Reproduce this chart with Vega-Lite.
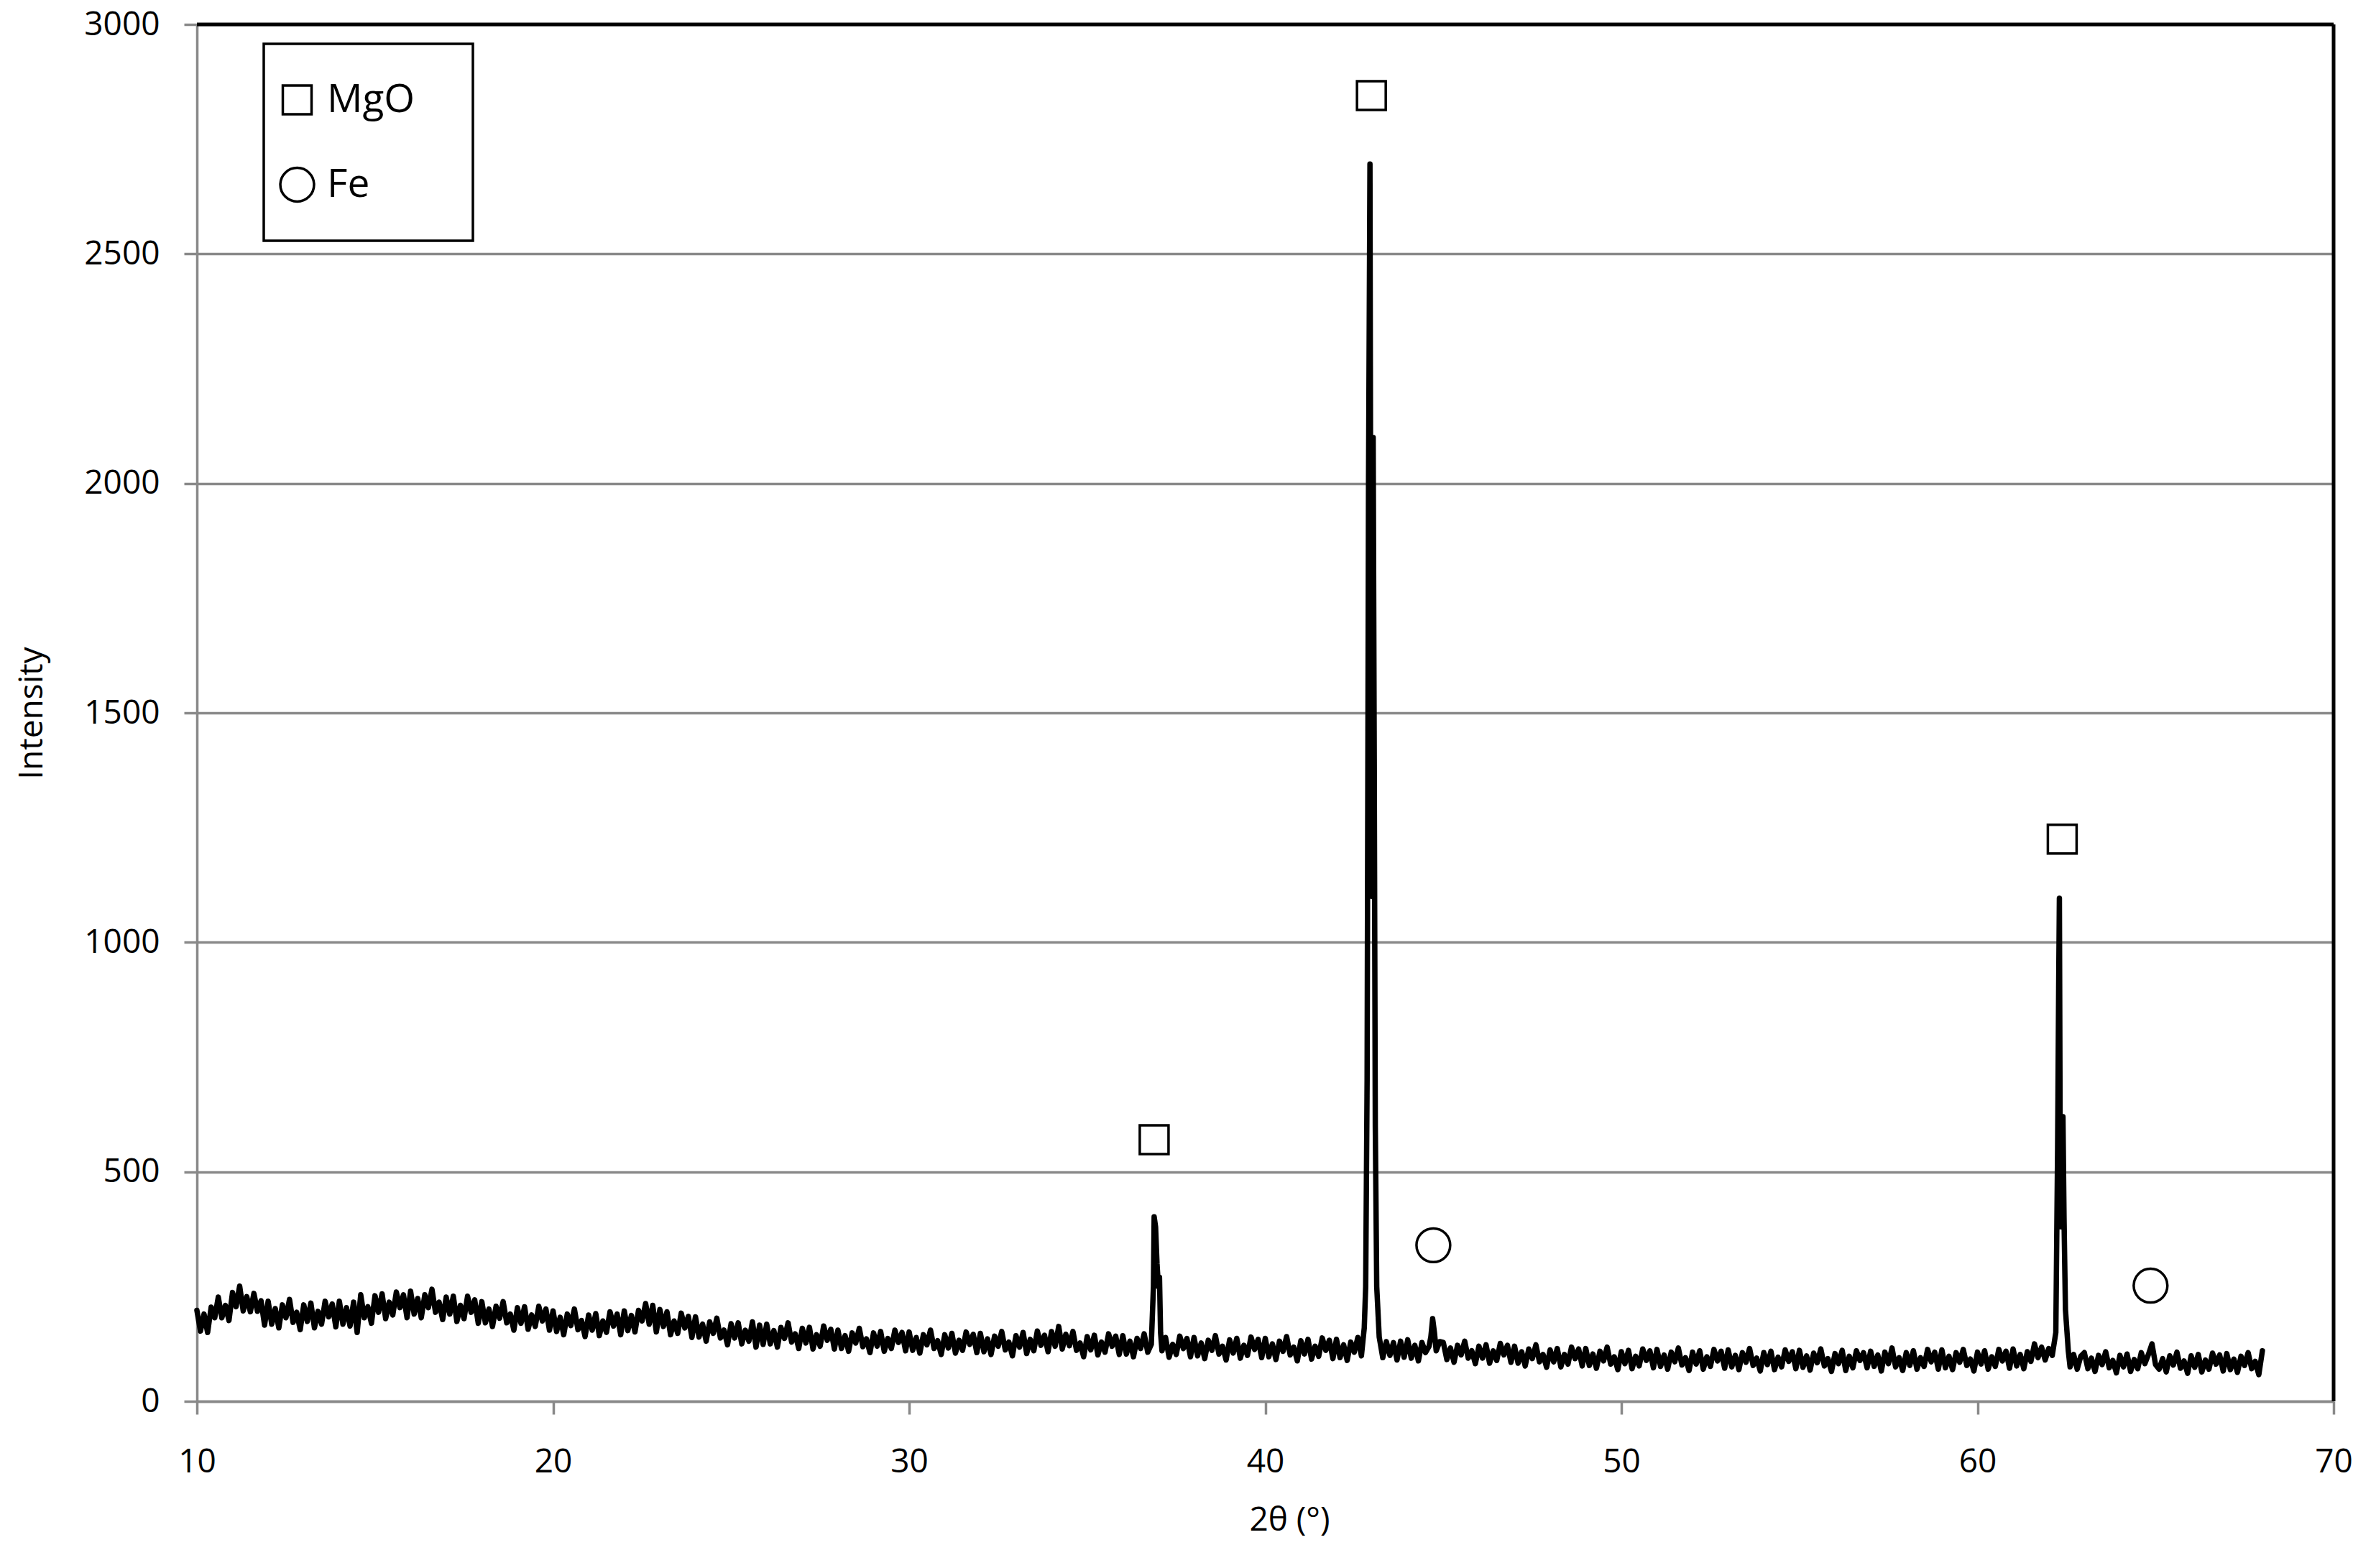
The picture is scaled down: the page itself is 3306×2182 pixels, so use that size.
{
  "$schema": "https://vega.github.io/schema/vega-lite/v6.json",
  "autosize": "none",
  "width": 2973,
  "height": 1916,
  "padding": {"left": 274, "top": 34, "right": 59, "bottom": 232},
  "background": "white",
  "config": {
    "view": {"stroke": null},
    "font": "Open Sans",
    "axis": {
      "labelFont": "Open Sans", "titleFont": "Open Sans",
      "labelFontSize": 46, "titleFontSize": 46, "titleFontWeight": "normal",
      "labelColor": "black", "titleColor": "black",
      "domainColor": "#898989", "domainWidth": 3.5,
      "tickColor": "#898989", "tickWidth": 3.5, "tickSize": 18,
      "gridColor": "#898989", "gridWidth": 3.5, "labelFlush": false
    },
    "legend": {
      "labelFont": "Open Sans", "labelFontSize": 55, "labelColor": "black",
      "strokeColor": "black", "strokeWidth": 3.5, "padding": 19, "clipHeight": 118, "rowPadding": 0,
      "labelOffset": 14, "symbolStrokeWidth": 3.5, "symbolStrokeColor": "black", "symbolFillColor": "transparent",
      "titleOrient": "right", "titlePadding": 62, "titleFontSize": 20
    }
  },
  "datasets": {
    "xrd": [
      {"t":10.0,"i":198},{"t":10.1,"i":153},{"t":10.2,"i":190},{"t":10.3,"i":150},{"t":10.4,"i":205},{"t":10.5,"i":182},{"t":10.6,"i":227},{"t":10.7,"i":182},{"t":10.8,"i":209},{"t":10.9,"i":176},
      {"t":11.0,"i":237},{"t":11.1,"i":206},{"t":11.2,"i":251},{"t":11.3,"i":197},{"t":11.4,"i":228},{"t":11.5,"i":195},{"t":11.6,"i":235},{"t":11.7,"i":196},{"t":11.8,"i":219},{"t":11.9,"i":166},
      {"t":12.0,"i":218},{"t":12.1,"i":168},{"t":12.2,"i":202},{"t":12.3,"i":160},{"t":12.4,"i":210},{"t":12.5,"i":182},{"t":12.6,"i":222},{"t":12.7,"i":172},{"t":12.8,"i":194},{"t":12.9,"i":156},
      {"t":13.0,"i":210},{"t":13.1,"i":174},{"t":13.2,"i":214},{"t":13.3,"i":160},{"t":13.4,"i":196},{"t":13.5,"i":168},{"t":13.6,"i":218},{"t":13.7,"i":184},{"t":13.8,"i":212},{"t":13.9,"i":162},
      {"t":14.0,"i":218},{"t":14.1,"i":168},{"t":14.2,"i":204},{"t":14.3,"i":164},{"t":14.4,"i":216},{"t":14.5,"i":150},{"t":14.6,"i":232},{"t":14.7,"i":182},{"t":14.8,"i":206},{"t":14.9,"i":170},
      {"t":15.0,"i":230},{"t":15.1,"i":194},{"t":15.2,"i":234},{"t":15.3,"i":180},{"t":15.4,"i":216},{"t":15.5,"i":188},{"t":15.6,"i":238},{"t":15.7,"i":204},{"t":15.8,"i":232},{"t":15.9,"i":182},
      {"t":16.0,"i":240},{"t":16.1,"i":190},{"t":16.2,"i":224},{"t":16.3,"i":182},{"t":16.4,"i":232},{"t":16.5,"i":204},{"t":16.6,"i":244},{"t":16.7,"i":194},{"t":16.8,"i":216},{"t":16.9,"i":178},
      {"t":17.0,"i":227},{"t":17.1,"i":190},{"t":17.2,"i":229},{"t":17.3,"i":174},{"t":17.4,"i":209},{"t":17.5,"i":180},{"t":17.6,"i":229},{"t":17.7,"i":194},{"t":17.8,"i":221},{"t":17.9,"i":170},
      {"t":18.0,"i":217},{"t":18.1,"i":171},{"t":18.2,"i":201},{"t":18.3,"i":163},{"t":18.4,"i":207},{"t":18.5,"i":181},{"t":18.6,"i":217},{"t":18.7,"i":171},{"t":18.8,"i":190},{"t":18.9,"i":155},
      {"t":19.0,"i":204},{"t":19.1,"i":170},{"t":19.2,"i":206},{"t":19.3,"i":157},{"t":19.4,"i":188},{"t":19.5,"i":163},{"t":19.6,"i":207},{"t":19.7,"i":175},{"t":19.8,"i":201},{"t":19.9,"i":155},
      {"t":20.0,"i":197},{"t":20.1,"i":152},{"t":20.2,"i":183},{"t":20.3,"i":145},{"t":20.4,"i":190},{"t":20.5,"i":165},{"t":20.6,"i":201},{"t":20.7,"i":156},{"t":20.8,"i":176},{"t":20.9,"i":141},
      {"t":21.0,"i":188},{"t":21.1,"i":155},{"t":21.2,"i":191},{"t":21.3,"i":143},{"t":21.4,"i":175},{"t":21.5,"i":150},{"t":21.6,"i":195},{"t":21.7,"i":164},{"t":21.8,"i":190},{"t":21.9,"i":145},
      {"t":22.0,"i":197},{"t":22.1,"i":154},{"t":22.2,"i":187},{"t":22.3,"i":151},{"t":22.4,"i":198},{"t":22.5,"i":175},{"t":22.6,"i":213},{"t":22.7,"i":168},{"t":22.8,"i":209},{"t":22.9,"i":151},
      {"t":23.0,"i":200},{"t":23.1,"i":163},{"t":23.2,"i":195},{"t":23.3,"i":145},{"t":23.4,"i":175},{"t":23.5,"i":148},{"t":23.6,"i":192},{"t":23.7,"i":160},{"t":23.8,"i":185},{"t":23.9,"i":139},
      {"t":24.0,"i":184},{"t":24.1,"i":140},{"t":24.2,"i":168},{"t":24.3,"i":131},{"t":24.4,"i":173},{"t":24.5,"i":148},{"t":24.6,"i":181},{"t":24.7,"i":138},{"t":24.8,"i":155},{"t":24.9,"i":123},
      {"t":25.0,"i":169},{"t":25.1,"i":138},{"t":25.2,"i":171},{"t":25.3,"i":125},{"t":25.4,"i":155},{"t":25.5,"i":131},{"t":25.6,"i":173},{"t":25.7,"i":118},{"t":25.8,"i":166},{"t":25.9,"i":124},
      {"t":26.0,"i":168},{"t":26.1,"i":125},{"t":26.2,"i":154},{"t":26.3,"i":118},{"t":26.4,"i":161},{"t":26.5,"i":137},{"t":26.6,"i":171},{"t":26.7,"i":129},{"t":26.8,"i":147},{"t":26.9,"i":115},
      {"t":27.0,"i":159},{"t":27.1,"i":127},{"t":27.2,"i":161},{"t":27.3,"i":114},{"t":27.4,"i":145},{"t":27.5,"i":120},{"t":27.6,"i":164},{"t":27.7,"i":133},{"t":27.8,"i":157},{"t":27.9,"i":114},
      {"t":28.0,"i":155},{"t":28.1,"i":115},{"t":28.2,"i":143},{"t":28.3,"i":109},{"t":28.4,"i":149},{"t":28.5,"i":127},{"t":28.6,"i":159},{"t":28.7,"i":119},{"t":28.8,"i":136},{"t":28.9,"i":106},
      {"t":29.0,"i":149},{"t":29.1,"i":120},{"t":29.2,"i":152},{"t":29.3,"i":109},{"t":29.4,"i":137},{"t":29.5,"i":115},{"t":29.6,"i":155},{"t":29.7,"i":128},{"t":29.8,"i":150},{"t":29.9,"i":110},
      {"t":30.0,"i":151},{"t":30.1,"i":111},{"t":30.2,"i":139},{"t":30.3,"i":105},{"t":30.4,"i":145},{"t":30.5,"i":123},{"t":30.6,"i":155},{"t":30.7,"i":115},{"t":30.8,"i":132},{"t":30.9,"i":102},
      {"t":31.0,"i":145},{"t":31.1,"i":116},{"t":31.2,"i":148},{"t":31.3,"i":105},{"t":31.4,"i":133},{"t":31.5,"i":111},{"t":31.6,"i":151},{"t":31.7,"i":124},{"t":31.8,"i":146},{"t":31.9,"i":106},
      {"t":32.0,"i":148},{"t":32.1,"i":108},{"t":32.2,"i":136},{"t":32.3,"i":102},{"t":32.4,"i":142},{"t":32.5,"i":120},{"t":32.6,"i":152},{"t":32.7,"i":112},{"t":32.8,"i":129},{"t":32.9,"i":99},
      {"t":33.0,"i":143},{"t":33.1,"i":118},{"t":33.2,"i":150},{"t":33.3,"i":104},{"t":33.4,"i":135},{"t":33.5,"i":110},{"t":33.6,"i":153},{"t":33.7,"i":122},{"t":33.8,"i":144},{"t":33.9,"i":108},
      {"t":34.0,"i":152},{"t":34.1,"i":120},{"t":34.2,"i":163},{"t":34.3,"i":114},{"t":34.4,"i":146},{"t":34.5,"i":121},{"t":34.6,"i":152},{"t":34.7,"i":111},{"t":34.8,"i":127},{"t":34.9,"i":97},
      {"t":35.0,"i":141},{"t":35.1,"i":112},{"t":35.2,"i":144},{"t":35.3,"i":101},{"t":35.4,"i":129},{"t":35.5,"i":107},{"t":35.6,"i":147},{"t":35.7,"i":120},{"t":35.8,"i":142},{"t":35.9,"i":102},
      {"t":36.0,"i":143},{"t":36.1,"i":103},{"t":36.2,"i":131},{"t":36.3,"i":97},{"t":36.4,"i":137},{"t":36.5,"i":115},{"t":36.6,"i":147},{"t":36.7,"i":107},{"t":36.8,"i":124},
      {"t":36.86,"i":250},{"t":36.88,"i":402},{"t":36.92,"i":380},{"t":36.96,"i":300},{"t":37.0,"i":250},{"t":37.03,"i":270},{"t":37.06,"i":150},{"t":37.1,"i":110},
      {"t":37.2,"i":139},{"t":37.3,"i":96},{"t":37.4,"i":124},{"t":37.5,"i":102},{"t":37.6,"i":142},{"t":37.7,"i":115},{"t":37.8,"i":137},{"t":37.9,"i":97},
      {"t":38.0,"i":139},{"t":38.1,"i":99},{"t":38.2,"i":127},{"t":38.3,"i":93},{"t":38.4,"i":133},{"t":38.5,"i":111},{"t":38.6,"i":143},{"t":38.7,"i":103},{"t":38.8,"i":120},{"t":38.9,"i":90},
      {"t":39.0,"i":134},{"t":39.1,"i":105},{"t":39.2,"i":137},{"t":39.3,"i":94},{"t":39.4,"i":122},{"t":39.5,"i":100},{"t":39.6,"i":140},{"t":39.7,"i":113},{"t":39.8,"i":135},{"t":39.9,"i":95},
      {"t":40.0,"i":137},{"t":40.1,"i":97},{"t":40.2,"i":125},{"t":40.3,"i":91},{"t":40.4,"i":131},{"t":40.5,"i":109},{"t":40.6,"i":141},{"t":40.7,"i":101},{"t":40.8,"i":118},{"t":40.9,"i":88},
      {"t":41.0,"i":132},{"t":41.1,"i":103},{"t":41.2,"i":135},{"t":41.3,"i":92},{"t":41.4,"i":120},{"t":41.5,"i":98},{"t":41.6,"i":138},{"t":41.7,"i":111},{"t":41.8,"i":133},{"t":41.9,"i":93},
      {"t":42.0,"i":135},{"t":42.1,"i":95},{"t":42.2,"i":123},{"t":42.3,"i":89},{"t":42.4,"i":129},{"t":42.5,"i":107},{"t":42.6,"i":139},{"t":42.7,"i":99},
      {"t":42.78,"i":160},{"t":42.82,"i":250},{"t":42.86,"i":700},{"t":42.9,"i":2000},{"t":42.94,"i":2696},{"t":42.97,"i":1500},{"t":43.0,"i":1100},{"t":43.03,"i":2100},{"t":43.06,"i":1400},{"t":43.09,"i":600},{"t":43.13,"i":250},{"t":43.2,"i":140},
      {"t":43.3,"i":95},{"t":43.4,"i":130},{"t":43.5,"i":100},{"t":43.6,"i":128},{"t":43.7,"i":90},{"t":43.8,"i":131},{"t":43.9,"i":96},
      {"t":44.0,"i":134},{"t":44.1,"i":94},{"t":44.2,"i":122},{"t":44.3,"i":88},{"t":44.4,"i":128},{"t":44.5,"i":106},{"t":44.6,"i":120},{"t":44.65,"i":140},{"t":44.7,"i":180},{"t":44.75,"i":150},{"t":44.8,"i":110},{"t":44.9,"i":130},
      {"t":45.0,"i":128},{"t":45.1,"i":91},{"t":45.2,"i":116},{"t":45.3,"i":85},{"t":45.4,"i":122},{"t":45.5,"i":101},{"t":45.6,"i":131},{"t":45.7,"i":94},{"t":45.8,"i":110},{"t":45.9,"i":82},
      {"t":46.0,"i":120},{"t":46.1,"i":94},{"t":46.2,"i":123},{"t":46.3,"i":83},{"t":46.4,"i":110},{"t":46.5,"i":89},{"t":46.6,"i":126},{"t":46.7,"i":101},{"t":46.8,"i":122},{"t":46.9,"i":85},
      {"t":47.0,"i":120},{"t":47.1,"i":83},{"t":47.2,"i":108},{"t":47.3,"i":77},{"t":47.4,"i":114},{"t":47.5,"i":93},{"t":47.6,"i":123},{"t":47.7,"i":86},{"t":47.8,"i":102},{"t":47.9,"i":74},
      {"t":48.0,"i":112},{"t":48.1,"i":86},{"t":48.2,"i":115},{"t":48.3,"i":75},{"t":48.4,"i":102},{"t":48.5,"i":81},{"t":48.6,"i":118},{"t":48.7,"i":93},{"t":48.8,"i":114},{"t":48.9,"i":77},
      {"t":49.0,"i":115},{"t":49.1,"i":78},{"t":49.2,"i":103},{"t":49.3,"i":72},{"t":49.4,"i":109},{"t":49.5,"i":88},{"t":49.6,"i":118},{"t":49.7,"i":81},{"t":49.8,"i":97},{"t":49.9,"i":69},
      {"t":50.0,"i":108},{"t":50.1,"i":82},{"t":50.2,"i":111},{"t":50.3,"i":71},{"t":50.4,"i":98},{"t":50.5,"i":77},{"t":50.6,"i":114},{"t":50.7,"i":89},{"t":50.8,"i":110},{"t":50.9,"i":73},
      {"t":51.0,"i":113},{"t":51.1,"i":76},{"t":51.2,"i":101},{"t":51.3,"i":70},{"t":51.4,"i":107},{"t":51.5,"i":86},{"t":51.6,"i":116},{"t":51.7,"i":79},{"t":51.8,"i":95},{"t":51.9,"i":67},
      {"t":52.0,"i":107},{"t":52.1,"i":81},{"t":52.2,"i":110},{"t":52.3,"i":70},{"t":52.4,"i":97},{"t":52.5,"i":76},{"t":52.6,"i":113},{"t":52.7,"i":88},{"t":52.8,"i":109},{"t":52.9,"i":72},
      {"t":53.0,"i":112},{"t":53.1,"i":75},{"t":53.2,"i":100},{"t":53.3,"i":69},{"t":53.4,"i":106},{"t":53.5,"i":85},{"t":53.6,"i":115},{"t":53.7,"i":78},{"t":53.8,"i":94},{"t":53.9,"i":66},
      {"t":54.0,"i":106},{"t":54.1,"i":80},{"t":54.2,"i":109},{"t":54.3,"i":69},{"t":54.4,"i":96},{"t":54.5,"i":75},{"t":54.6,"i":112},{"t":54.7,"i":87},{"t":54.8,"i":108},{"t":54.9,"i":71},
      {"t":55.0,"i":111},{"t":55.1,"i":74},{"t":55.2,"i":99},{"t":55.3,"i":68},{"t":55.4,"i":105},{"t":55.5,"i":84},{"t":55.6,"i":114},{"t":55.7,"i":77},{"t":55.8,"i":93},{"t":55.9,"i":65},
      {"t":56.0,"i":104},{"t":56.1,"i":82},{"t":56.2,"i":111},{"t":56.3,"i":67},{"t":56.4,"i":98},{"t":56.5,"i":73},{"t":56.6,"i":110},{"t":56.7,"i":89},{"t":56.8,"i":106},{"t":56.9,"i":73},
      {"t":57.0,"i":109},{"t":57.1,"i":76},{"t":57.2,"i":101},{"t":57.3,"i":66},{"t":57.4,"i":107},{"t":57.5,"i":82},{"t":57.6,"i":116},{"t":57.7,"i":75},{"t":57.8,"i":95},{"t":57.9,"i":67},
      {"t":58.0,"i":106},{"t":58.1,"i":78},{"t":58.2,"i":110},{"t":58.3,"i":70},{"t":58.4,"i":95},{"t":58.5,"i":76},{"t":58.6,"i":113},{"t":58.7,"i":86},{"t":58.8,"i":107},{"t":58.9,"i":70},
      {"t":59.0,"i":112},{"t":59.1,"i":73},{"t":59.2,"i":98},{"t":59.3,"i":69},{"t":59.4,"i":106},{"t":59.5,"i":85},{"t":59.6,"i":113},{"t":59.7,"i":78},{"t":59.8,"i":92},{"t":59.9,"i":66},
      {"t":60.0,"i":107},{"t":60.1,"i":81},{"t":60.2,"i":110},{"t":60.3,"i":70},{"t":60.4,"i":97},{"t":60.5,"i":76},{"t":60.6,"i":113},{"t":60.7,"i":88},{"t":60.8,"i":109},{"t":60.9,"i":72},
      {"t":61.0,"i":114},{"t":61.1,"i":77},{"t":61.2,"i":102},{"t":61.3,"i":71},{"t":61.4,"i":108},{"t":61.5,"i":87},{"t":61.6,"i":125},{"t":61.7,"i":95},{"t":61.8,"i":118},{"t":61.9,"i":90},
      {"t":62.0,"i":115},{"t":62.1,"i":100},
      {"t":62.2,"i":150},{"t":62.25,"i":550},{"t":62.28,"i":900},{"t":62.3,"i":1096},{"t":62.32,"i":600},{"t":62.35,"i":380},{"t":62.37,"i":600},{"t":62.4,"i":620},{"t":62.43,"i":400},{"t":62.47,"i":200},{"t":62.55,"i":110},
      {"t":62.6,"i":75},{"t":62.7,"i":102},{"t":62.8,"i":70},{"t":62.9,"i":98},
      {"t":63.0,"i":106},{"t":63.1,"i":71},{"t":63.2,"i":94},{"t":63.3,"i":65},{"t":63.4,"i":100},{"t":63.5,"i":80},{"t":63.6,"i":108},{"t":63.7,"i":73},{"t":63.8,"i":89},{"t":63.9,"i":62},
      {"t":64.0,"i":100},{"t":64.1,"i":75},{"t":64.2,"i":103},{"t":64.3,"i":65},{"t":64.4,"i":91},{"t":64.5,"i":71},{"t":64.6,"i":106},{"t":64.7,"i":82},{"t":64.8,"i":102},{"t":64.9,"i":125},
      {"t":65.0,"i":80},{"t":65.1,"i":70},{"t":65.2,"i":93},{"t":65.3,"i":64},{"t":65.4,"i":99},{"t":65.5,"i":79},{"t":65.6,"i":107},{"t":65.7,"i":72},{"t":65.8,"i":88},{"t":65.9,"i":61},
      {"t":66.0,"i":99},{"t":66.1,"i":74},{"t":66.2,"i":102},{"t":66.3,"i":64},{"t":66.4,"i":90},{"t":66.5,"i":70},{"t":66.6,"i":105},{"t":66.7,"i":81},{"t":66.8,"i":101},{"t":66.9,"i":66},
      {"t":67.0,"i":104},{"t":67.1,"i":69},{"t":67.2,"i":92},{"t":67.3,"i":63},{"t":67.4,"i":98},{"t":67.5,"i":78},{"t":67.6,"i":106},{"t":67.7,"i":71},{"t":67.8,"i":87},{"t":67.9,"i":58},
      {"t":68.0,"i":110}
    ],
    "peaks": [
      {"t":36.88,"i":570,"phase":"MgO"},
      {"t":42.98,"i":2845,"phase":"MgO"},
      {"t":62.38,"i":1225,"phase":"MgO"},
      {"t":44.72,"i":340,"phase":"Fe"},
      {"t":64.86,"i":252,"phase":"Fe"}
    ],
    "frame": [
      {"right": 70, "top": 3000}
    ]
  },
  "layer": [
    {
      "data": {"name": "xrd"},
      "mark": {"type": "line", "color": "black", "strokeWidth": 7.5, "strokeJoin": "round", "strokeCap": "round"},
      "encoding": {
        "x": {"field": "t", "type": "quantitative", "scale": {"domain": [10, 70], "nice": false, "zero": false},
          "axis": {"values": [10,20,30,40,50,60,70], "grid": false, "title": "2θ (°)", "labelPadding": 44, "format": "d",
                   "titleX": 1520, "titleY": 165, "titleBaseline": "middle", "titleAlign": "center"}},
        "y": {"field": "i", "type": "quantitative", "scale": {"domain": [0, 3000], "nice": false},
          "axis": {"values": [0,500,1000,1500,2000,2500,3000], "grid": true, "title": "Intensity", "labelPadding": 34, "format": "d",
                   "titleX": -230, "titleBaseline": "middle"}}
      }
    },
    {
      "data": {"name": "peaks"},
      "mark": {"type": "point", "filled": false, "color": "black", "strokeWidth": 3.5, "opacity": 1},
      "encoding": {
        "x": {"field": "t", "type": "quantitative"},
        "y": {"field": "i", "type": "quantitative"},
        "shape": {"field": "phase", "type": "nominal", "scale": {"domain": ["MgO", "Fe"], "range": ["square", "circle"]},
          "legend": {"orient": "none", "legendX": 93, "legendY": 27, "title": " ",
                     "encode": {"legend": {"update": {"stroke": {"value": "black"}, "strokeWidth": {"value": 3.5}}}}}},
        "size": {"field": "phase", "type": "nominal", "scale": {"domain": ["MgO", "Fe"], "range": [1600, 2200]},
          "legend": {"orient": "none", "legendX": 93, "legendY": 27, "title": " ",
                     "encode": {"legend": {"update": {"stroke": {"value": "black"}, "strokeWidth": {"value": 3.5}}}}}}
      }
    },
    {
      "data": {"name": "frame"},
      "mark": {"type": "rule", "color": "black", "strokeWidth": 5},
      "encoding": {"x": {"field": "right", "type": "quantitative"}}
    },
    {
      "data": {"name": "frame"},
      "mark": {"type": "rule", "color": "black", "strokeWidth": 5},
      "encoding": {"y": {"field": "top", "type": "quantitative"}}
    }
  ]
}
